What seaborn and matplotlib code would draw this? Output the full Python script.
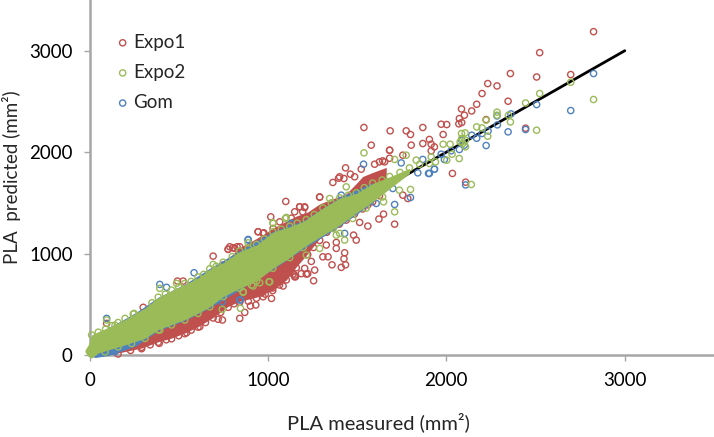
import matplotlib
matplotlib.use("Agg")
import matplotlib.pyplot as plt
import seaborn as sns

sns.set_style("white")
plt.rcParams['font.family'] = ['Lato', 'DejaVu Sans']

# values
expo1_x = [2825, 2523, 2359, 2506, 2697, 2232, 2284, 2200, 2346, 2170, 2142, 2085, 2101, 2073, 2086, 2070,
           1971, 2002, 1982, 2223, 2444, 2034, 2108, 1905, 1915, 1933, 1915, 1538, 1685, 1775, 1799, 1868,
           1100, 1016, 1290, 1435, 1396, 1426, 1364, 1486, 1178, 1206, 1710, 1622, 1648, 1560, 1514, 1480,
           1495, 1327, 1383, 1383, 1430, 1426, 1435, 1411, 1359, 1308, 1337, 1243, 1262, 1206, 1215, 1256,
           1141, 1154, 1756, 1784, 1803, 1868, 1756, 1654, 1625, 1682, 1579, 945, 973, 1029, 1066, 1150,
           786, 814, 693, 777, 827, 493, 525, 301, 391, 292, 544, 618, 721, 745, 842, 870, 902, 932, 1020,
           1085, 1150, 1150, 973, 96,
           945, 977, 777, 803, 842, 749, 1223, 1187, 1150, 1141, 1066, 1027, 964, 917, 870,
           1402, 1462, 1523, 1598, 1643, 1682, 1682, 1290, 1178, 1206, 1195, 1131,
           160, 230, 292, 340, 385, 430, 460, 500, 534, 570, 608, 650, 693, 735, 777, 810, 842, 890, 936,
           985, 1027, 1065, 1103, 1159, 1223, 1255, 1290, 1330, 1365, 1400, 1439, 1485, 1531, 1560, 1587, 1625]
expo1_y = [3188, 2981, 2775, 2741, 2765, 2676, 2653, 2578, 2502, 2472, 2406, 2426, 2364, 2331, 2292, 2279,
           2275, 2272, 2174, 2321, 2236, 1790, 1704, 2125, 2078, 2052, 2013, 2243, 2210, 2210, 2174, 2243,
           1514, 1362, 1559, 1845, 1743, 1740, 1701, 1757, 1461, 1454, 1290, 1340, 1389, 1271, 1307, 1182,
           1133, 1084, 1110, 1051, 1008, 949, 889, 864, 889, 968, 968, 923, 837, 854, 798, 732,
           798, 771, 1576, 1543, 2069, 2085, 1970, 1904, 1904, 2019, 2069, 1215, 1199, 1248, 1313, 1412,
           1067, 1051, 975, 1041, 1067, 729, 729, 470, 115, 76, 220, 279, 352, 345, 361, 420, 483, 493, 558,
           680, 788, 903, 574, 312,
           1215, 1205, 1044, 1057, 1067, 887, 802, 802, 771, 906, 722, 660, 611, 624, 611,
           1757, 1783, 1832, 1881, 1914, 2019, 1940, 1556, 1461, 1461, 1412, 1349,
           10, 45, 62, 100, 125, 150, 160, 190, 210, 245, 275, 320, 365, 420, 470, 505, 520, 530, 560,
           600, 635, 690, 740, 860, 990, 1060, 1130, 1210, 1250, 1290, 1330, 1390, 1440, 1480, 1510, 1570]
expo2_x = [2825, 2697, 2523, 2506, 2444, 2359, 2348, 2284, 2284, 2223, 2170, 2200, 2232, 2140, 2085, 2105,
           2086, 2107, 2092, 2107, 2077, 2072, 1982, 2021, 2002, 1939, 1915, 1905, 2032, 1538, 1710, 1430,
           1103, 1648, 1799, 1710, 1775, 1831, 1439, 1346, 1028, 1383, 1402, 1215, 1290, 861, 908, 1006,
           96, 143, 199, 245, 394, 488, 693, 889, 1029, 1098, 744, 846, 394, 861, 917, 954, 1010,
           12, 49, 90, 124, 160, 250, 350, 385, 425, 460, 500, 534, 570, 608, 640, 674, 710, 749, 800, 842,
           890, 936, 980, 1027, 1075, 1122, 1165, 1215, 1260, 1308, 1355, 1402, 1450, 1495, 1540, 1587, 1640,
           1682, 1740, 1793, 1850,
           87, 160, 236, 311, 385, 460, 534, 608, 674, 749, 842, 936, 1027, 1122, 1197, 1365, 1475, 1551, 1643, 1737]
expo2_y = [2519, 2689, 2578, 2216, 2485, 2298, 2364, 2394, 2364, 2315, 2249, 2239, 2157, 1681, 2184, 2190,
           2134, 2118, 2085, 2052, 2101, 1937, 2078, 2078, 1921, 1904, 1953, 1888, 1980, 1993, 1412, 1133,
           1356, 1510, 1632, 1928, 1970, 1921, 1658, 1543, 1303, 1182, 1199, 985, 1051, 624, 690, 722,
           345, 295, 361, 404, 657, 706, 893, 1106, 1297, 1346, 450, 460, 246, 618, 680, 712, 722,
           197, 225, 255, 290, 320, 410, 515, 570, 600, 640, 670, 705, 725, 770, 795, 850, 875, 915, 970, 1025,
           1055, 1090, 1145, 1215, 1240, 1270, 1300, 1335, 1385, 1450, 1500, 1550, 1575, 1600, 1650, 1695, 1725,
           1760, 1800, 1845, 1880,
           30, 80, 113, 163, 247, 297, 345, 410, 475, 576, 658, 730, 855, 960, 1060, 1247, 1346, 1448, 1559, 1625]
gom_x = [2825, 2697, 2506, 2362, 2346, 2286, 2284, 2444, 2234, 2170, 2142, 2200, 2223, 2108, 2073, 2101,
         2086, 1933, 1905, 1989, 1971, 2027, 1536, 1710, 1799, 889, 1747, 1840, 1900, 1933, 1868, 1430,
         842, 1131, 1411, 1700, 1607, 96, 394, 432, 586, 889, 744, 846, 1131, 143]
gom_y = [2775, 2410, 2469, 2377, 2200, 2269, 2357, 2223, 2209, 2137, 2167, 2184, 2065, 1677, 2026, 2069,
         2118, 1832, 1790, 1927, 1980, 2013, 1881, 1484, 1553, 1133, 1894, 1796, 1790, 1832, 1928, 1199,
         542, 1297, 1576, 1642, 1494, 361, 696, 667, 811, 1139, 525, 542, 1297, 33]

# solid parts of the cloud, upper and lower edge as read
expo1_band_x = [100, 160, 292, 385, 460, 534, 608, 693, 777, 842, 936, 1027, 1103, 1159, 1223, 1290, 1365, 1439, 1500, 1531, 1587, 1663]
expo1_band_hi = [250, 310, 430, 530, 600, 665, 730, 820, 950, 1060, 1149, 1248, 1320, 1370, 1410, 1490, 1540, 1590, 1700, 1760, 1800, 1850]
expo1_band_lo = [5, 20, 69, 131, 167, 217, 279, 370, 480, 530, 570, 640, 740, 870, 1000, 1150, 1260, 1340, 1440, 1470, 1530, 1640]
expo2_band_x = [-25, -7, 12, 49, 124, 199, 311, 385, 460, 534, 608, 674, 749, 842, 936, 1027, 1122, 1197, 1308, 1402, 1495, 1587, 1682, 1793]
expo2_band_hi = [50, 100, 197, 230, 285, 348, 465, 565, 635, 695, 760, 845, 910, 1020, 1085, 1210, 1265, 1315, 1448, 1546, 1593, 1691, 1757, 1840]
expo2_band_lo = [30, -15, -30, 20, 60, 100, 165, 251, 300, 349, 412, 475, 576, 658, 730, 855, 960, 1060, 1180, 1280, 1400, 1510, 1640, 1790]
gom_band_x = [-10, 31, 104, 180, 260, 385, 534, 674, 842, 1027, 1197, 1402, 1587]
gom_band_hi = [30, 200, 270, 340, 420, 570, 700, 855, 1030, 1218, 1325, 1555, 1700]
gom_band_lo = [0, -25, -5, 40, 90, 240, 340, 465, 645, 845, 1045, 1270, 1500]

fit_x = [0, 3000]
fit_y = [0, 3000]

ticks = [0, 1000, 2000, 3000]

RED = '#C0504D'
GREEN = '#9BBB59'
BLUE = '#4F81BD'

fig = plt.figure(figsize=(7.14, 4.37), dpi=100)
ax = fig.add_axes([89.5 / 714, 82 / 437, 1 - 89.5 / 714, 355 / 437])

sns.lineplot(x=fit_x, y=fit_y, color='black', linewidth=2, ax=ax, zorder=2)


def cloud(x, y, color, label, band_x, band_hi, band_lo, z):
    ax.fill_between(band_x, band_lo, band_hi, color=color, linewidth=0, zorder=z, clip_on=False)
    sns.scatterplot(x=x, y=y, ax=ax, s=20, marker='o', facecolor='none', edgecolor=color,
                    linewidth=1, clip_on=False, zorder=z, label=label)


cloud(expo1_x, expo1_y, RED, 'Expo1', expo1_band_x, expo1_band_hi, expo1_band_lo, 3)
cloud(gom_x, gom_y, BLUE, 'Gom', gom_band_x, gom_band_hi, gom_band_lo, 4)
cloud(expo2_x, expo2_y, GREEN, 'Expo2', expo2_band_x, expo2_band_hi, expo2_band_lo, 5)

ax.set_xlim(0, 3500)
ax.set_ylim(0, 3500)
ax.set_xticks(ticks)
ax.set_yticks(ticks)
ax.tick_params(axis='both', length=4, width=1, color='#A6A6A6', labelsize=13.5, labelcolor='black', pad=8, left=True, bottom=True)
ax.set_xlabel('PLA measured (mm²)', fontsize=14.5)
ax.xaxis.set_label_coords(0.462, -57 / 355)
ax.set_ylabel('PLA  predicted (mm²)', fontsize=13.5, labelpad=6)
sns.despine(ax=ax)
for side in ['left', 'bottom']:
    ax.spines[side].set_color('#A6A6A6')
    ax.spines[side].set_linewidth(1.8)

handles, labels = ax.get_legend_handles_labels()
order = [labels.index(n) for n in ['Expo1', 'Expo2', 'Gom']]
ax.legend([handles[i] for i in order], [labels[i] for i in order], frameon=False, fontsize=13.5,
          loc='upper left', bbox_to_anchor=(0.0456, 0.905), borderaxespad=0, borderpad=0,
          labelspacing=0.7, handlelength=0.5, handletextpad=0.3)

fig.savefig('out.png', dpi=100)
